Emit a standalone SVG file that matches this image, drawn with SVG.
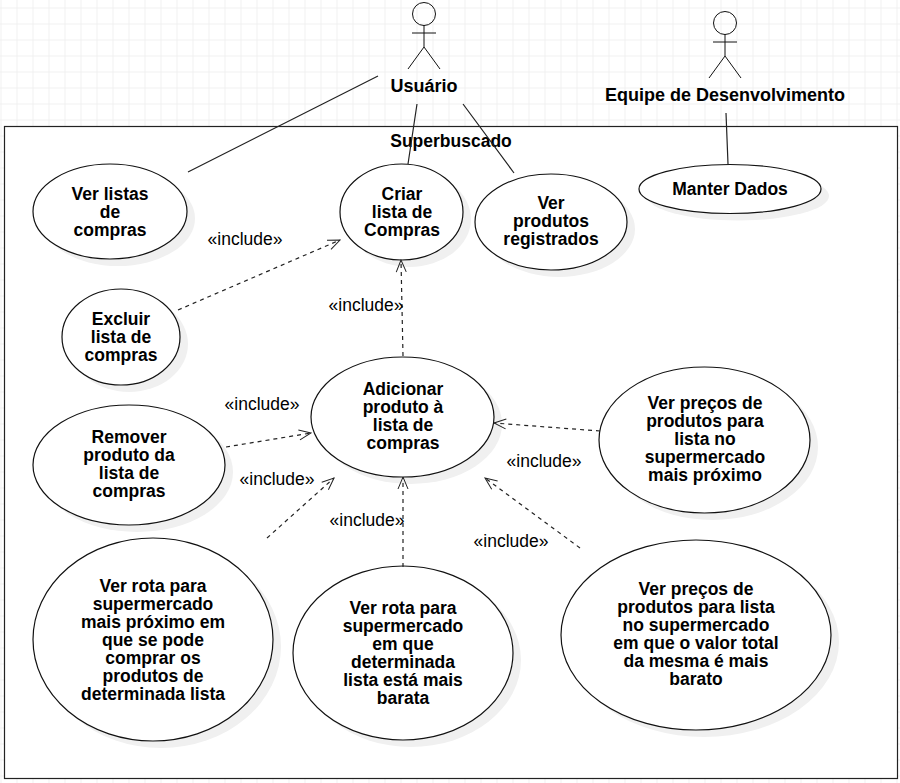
<svg xmlns="http://www.w3.org/2000/svg" width="900" height="783" viewBox="0 0 900 783">
<defs>
<pattern id="grid" width="16" height="16" patternUnits="userSpaceOnUse" x="0.5" y="7.5"><path d="M0 0.5H16M0.5 0V16" fill="none" stroke="#f0f0f0" stroke-width="1"/></pattern>
<marker id="open" markerWidth="14" markerHeight="12" refX="13" refY="6" orient="auto" markerUnits="userSpaceOnUse"><path d="M1 1 L13 6 L1 11" fill="none" stroke="#222" stroke-width="1"/></marker>
</defs>
<style>
text{font-family:"Liberation Sans",Arial,sans-serif;font-size:17.5px;fill:#000;text-anchor:middle}
.b{font-weight:bold}
.e{fill:#fff;stroke:#111;stroke-width:1.2}
.s{fill:#f0f0f0;stroke:none}
.l{stroke:#222;stroke-width:1.2;fill:none}
.d{stroke:#222;stroke-width:1.2;fill:none;stroke-dasharray:4 4;marker-end:url(#open)}
.a{stroke:#111;stroke-width:1;fill:none}
</style>
<rect width="900" height="783" fill="#fff"/>
<rect width="900" height="783" fill="url(#grid)"/>
<g id="system"><rect x="4.5" y="126.5" width="893" height="652" fill="#fff" stroke="#222" stroke-width="1.2"/><text class="b" x="451" y="147">Superbuscado</text></g>
<g id="actor-usuario"><circle class="a" cx="424" cy="14" r="11.5"/><path class="a" d="M424 25V47M412 33H436M408 69L424 47L440 69"/><text class="b" x="424" y="92" style="font-size:18px">Usuário</text></g>
<g id="actor-equipe"><circle class="a" cx="725" cy="23" r="11.5"/><path class="a" d="M725 34V56M713 42H737M709 78L725 56L741 78"/><text class="b" x="725" y="101" style="font-size:18px">Equipe de Desenvolvimento</text></g>
<g id="n1"><ellipse class="s" cx="118" cy="218.5" rx="77" ry="47.5"/><ellipse class="e" cx="110" cy="211.5" rx="77" ry="47.5"/><text class="b" x="110" y="200">Ver listas</text><text class="b" x="110" y="218">de</text><text class="b" x="110" y="236">compras</text></g>
<g id="n2"><ellipse class="s" cx="409.5" cy="219" rx="61.5" ry="48"/><ellipse class="e" cx="401.5" cy="212" rx="61.5" ry="48"/><text class="b" x="402" y="200">Criar</text><text class="b" x="402" y="218">lista de</text><text class="b" x="402" y="236">Compras</text></g>
<g id="n3"><ellipse class="s" cx="559" cy="229" rx="76" ry="48"/><ellipse class="e" cx="551" cy="222" rx="76" ry="48"/><text class="b" x="551" y="209">Ver</text><text class="b" x="551" y="227">produtos</text><text class="b" x="551" y="245">registrados</text></g>
<g id="n4"><ellipse class="s" cx="738" cy="196" rx="91" ry="24.5"/><ellipse class="e" cx="730" cy="189" rx="91" ry="24.5"/><text class="b" x="730" y="195">Manter Dados</text></g>
<g id="n5"><ellipse class="s" cx="129" cy="344" rx="59" ry="48"/><ellipse class="e" cx="121" cy="337" rx="59" ry="48"/><text class="b" x="121" y="325">Excluir</text><text class="b" x="121" y="343">lista de</text><text class="b" x="121" y="361">compras</text></g>
<g id="n6"><ellipse class="s" cx="410.5" cy="424" rx="91.5" ry="60"/><ellipse class="e" cx="402.5" cy="417" rx="91.5" ry="60"/><text class="b" x="403" y="395">Adicionar</text><text class="b" x="403" y="413">produto à</text><text class="b" x="403" y="431">lista de</text><text class="b" x="403" y="449">compras</text></g>
<g id="n7"><ellipse class="s" cx="137" cy="472" rx="96" ry="60"/><ellipse class="e" cx="129" cy="465" rx="96" ry="60"/><text class="b" x="129" y="443">Remover</text><text class="b" x="129" y="461">produto da</text><text class="b" x="129" y="479">lista de</text><text class="b" x="129" y="497">compras</text></g>
<g id="n8"><ellipse class="s" cx="712.5" cy="447" rx="105.5" ry="73"/><ellipse class="e" cx="704.5" cy="440" rx="105.5" ry="73"/><text class="b" x="705" y="409">Ver preços de</text><text class="b" x="705" y="427">produtos para</text><text class="b" x="705" y="445">lista no</text><text class="b" x="705" y="463">supermercado</text><text class="b" x="705" y="481">mais próximo</text></g>
<g id="n9"><ellipse class="s" cx="161" cy="646.5" rx="120" ry="101.5"/><ellipse class="e" cx="153" cy="639.5" rx="120" ry="101.5"/><text class="b" x="153" y="592">Ver rota para</text><text class="b" x="153" y="610">supermercado</text><text class="b" x="153" y="628">mais próximo em</text><text class="b" x="153" y="646">que se pode</text><text class="b" x="153" y="664">comprar os</text><text class="b" x="153" y="682">produtos de</text><text class="b" x="153" y="700">determinada lista</text></g>
<g id="n10"><ellipse class="s" cx="411" cy="660" rx="110" ry="87"/><ellipse class="e" cx="403" cy="653" rx="110" ry="87"/><text class="b" x="403" y="614">Ver rota para</text><text class="b" x="403" y="632">supermercado</text><text class="b" x="403" y="650">em que</text><text class="b" x="403" y="668">determinada</text><text class="b" x="403" y="686">lista está mais</text><text class="b" x="403" y="704">barata</text></g>
<g id="n11"><ellipse class="s" cx="704" cy="642" rx="135" ry="95"/><ellipse class="e" cx="696" cy="635" rx="135" ry="95"/><text class="b" x="696" y="595">Ver preços de</text><text class="b" x="696" y="613">produtos para lista</text><text class="b" x="696" y="631">no supermercado</text><text class="b" x="696" y="649">em que o valor total</text><text class="b" x="696" y="667">da mesma é mais</text><text class="b" x="696" y="685">barato</text></g>
<g id="connectors">
<path class="l" d="M378 76L188 172M417 104L408 164M463 104L514 173M726 113L728 164"/>
<path class="d" d="M178 310L340 240"/>
<path class="d" d="M403 356L401 260"/>
<path class="d" d="M226 447L311 433"/>
<path class="d" d="M267 538L334 478"/>
<path class="d" d="M403 567L403 477"/>
<path class="d" d="M580 548L485 478"/>
<path class="d" d="M600 431L494 423"/>
</g>
<g id="inc">
<text x="245" y="245">«include»</text>
<text x="366" y="311">«include»</text>
<text x="262" y="410">«include»</text>
<text x="277" y="485">«include»</text>
<text x="367" y="526">«include»</text>
<text x="544" y="467">«include»</text>
<text x="511" y="547">«include»</text>
</g>
</svg>
